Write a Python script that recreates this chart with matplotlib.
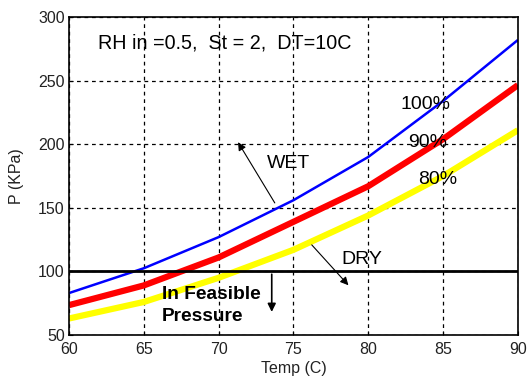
import matplotlib
matplotlib.use('Agg')
import matplotlib.pyplot as plt

# data
temp = [60, 65, 70, 75, 80, 85, 90]
p_100 = [83, 102.5, 127, 156, 190, 234, 282]
p_90 = [73.5, 89, 111, 139, 167, 204, 246.5]
p_80 = [63, 76, 95, 117, 144, 175, 211]
p_limit = 100

x_ticks = [60, 65, 70, 75, 80, 85, 90]
y_ticks = [50, 100, 150, 200, 250, 300]

plt.rcParams['font.family'] = ['Liberation Sans', 'DejaVu Sans']

fig = plt.figure(figsize=(5.29, 3.79), dpi=100)
ax = fig.add_axes([0.1304, 0.116, 0.8486, 0.839])

ax.plot(temp, p_80, color='#ffff00', linewidth=4.5, solid_capstyle='butt')
ax.plot(temp, p_90, color='#ff0000', linewidth=4.5, solid_capstyle='butt')
ax.plot(temp, p_100, color='#0000ff', linewidth=1.8, solid_capstyle='butt')
ax.axhline(p_limit, color='black', linewidth=2)

ax.set_xlim(60, 90)
ax.set_ylim(50, 300)
ax.set_xticks(x_ticks)
ax.set_yticks(y_ticks)
ax.grid(True, color='black', linestyle=(0, (3, 3)), linewidth=0.9)
ax.tick_params(direction='in', length=3, labelsize=11.5, labelcolor='#222222')
ax.tick_params(axis='x', pad=5)
ax.tick_params(axis='y', pad=3)
for s in ax.spines.values():
    s.set_linewidth(1.2)

ax.set_xlabel('Temp (C)', fontsize=11.5, color='#222222', labelpad=3)
ax.set_ylabel('P (KPa)', fontsize=11.5, color='#222222', labelpad=10)

ax.text(61.94, 279.6, 'RH in =0.5,  St = 2,  DT=10C', fontsize=14.2, va='center', ha='left')
ax.text(83.8, 231, '100%', fontsize=14, va='center', ha='center')
ax.text(83.95, 201, '90%', fontsize=14, va='center', ha='center')
ax.text(84.65, 172, '80%', fontsize=14, va='center', ha='center')
ax.text(74.66, 185, 'WET', fontsize=14, va='center', ha='center')
ax.text(79.6, 109, 'DRY', fontsize=14, va='center', ha='center')
ax.text(66.2, 82, 'In Feasible', fontsize=13.8, va='center', ha='left', fontweight='bold')
ax.text(66.2, 64.5, 'Pressure', fontsize=13.8, va='center', ha='left', fontweight='bold')

arrow = dict(arrowstyle='-|>', color='black', linewidth=0.8, mutation_scale=12)
ax.annotate('', xy=(71.2, 203.5), xytext=(73.85, 152), arrowprops=arrow)
ax.annotate('', xy=(78.8, 87.5), xytext=(76.1, 122.5), arrowprops=arrow)
ax.annotate('', xy=(73.55, 66), xytext=(73.55, 100), arrowprops=dict(arrowstyle='-|>', color='black', linewidth=1.2, mutation_scale=12))

fig.savefig('out.png', dpi=100)
